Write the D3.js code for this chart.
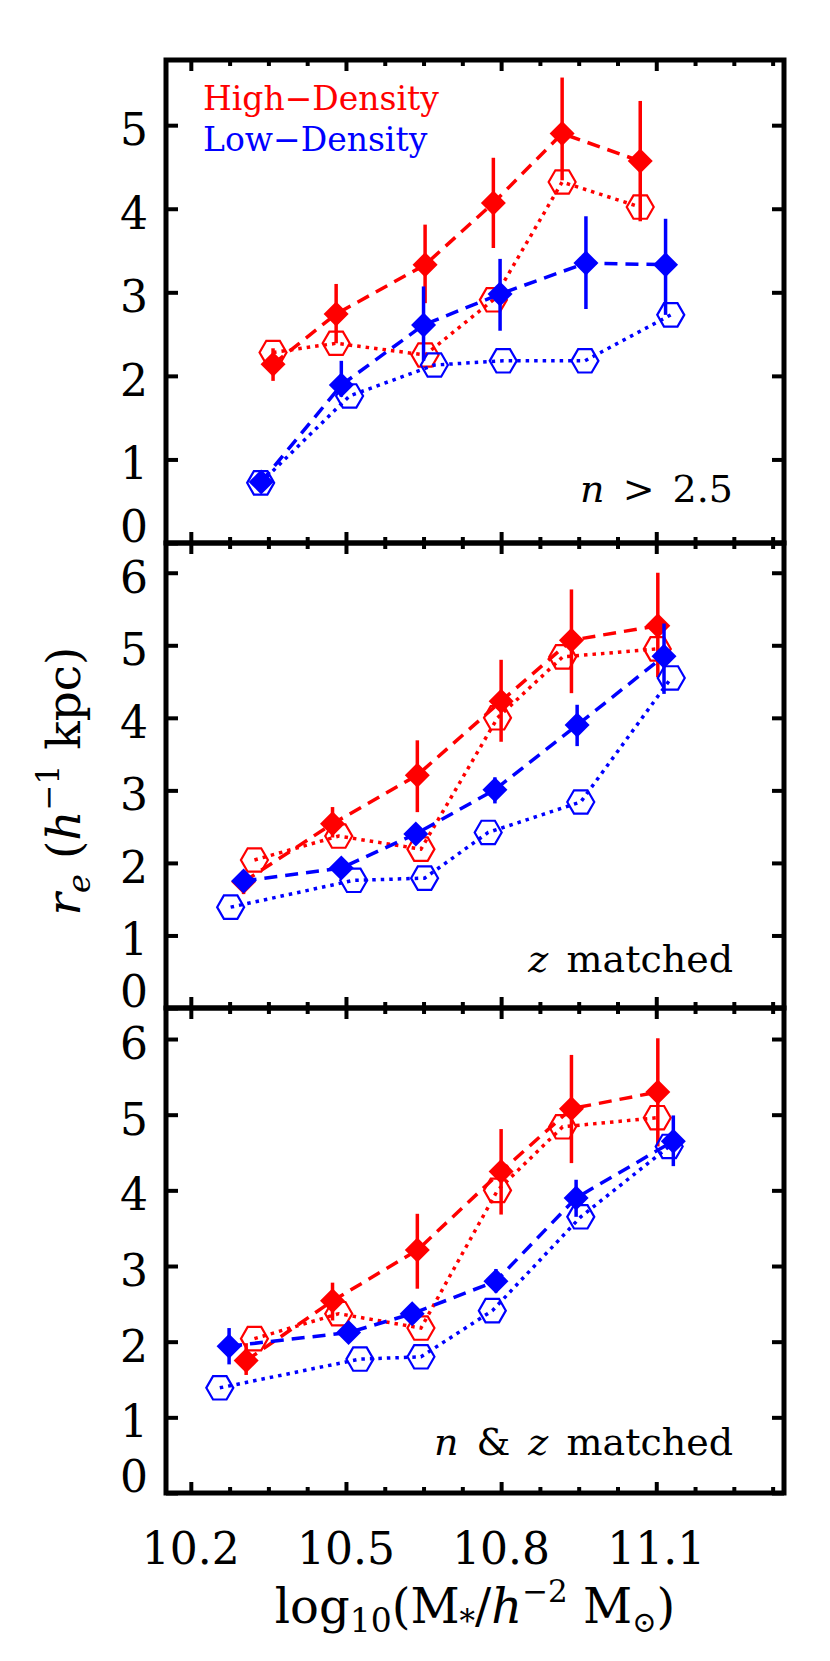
<!DOCTYPE html>
<html><head><meta charset="utf-8">
<script src="https://cdn.jsdelivr.net/npm/d3@7"></script>
<style>body{margin:0;background:#fff}svg{display:block}</style></head>
<body>
<svg id="c" width="830" height="1661"></svg>
<script>
// ---------- data ----------
const xMajorTicks = [10.2, 10.5, 10.8, 11.1];
const xMinorTicks = [10.275, 10.35, 10.425, 10.575, 10.65, 10.725, 10.875, 10.95, 11.025, 11.175, 11.25, 11.325];
const xTickLabels = ["10.2", "10.5", "10.8", "11.1"];
const xDomain = [10.152, 11.347];

const yDomainTop = [0, 5.78];
const yDomainOther = [0, 6.41];
const yTicksTop = [0, 1, 2, 3, 4, 5];
const yTicksOther = [0, 1, 2, 3, 4, 5, 6];

// Panel 1 : n > 2.5
const p1HighDiaX = [10.359, 10.481, 10.653, 10.785, 10.918, 11.069];
const p1HighDiaY = [2.14, 2.74, 3.33, 4.07, 4.90, 4.57];
const p1HighDiaLo = [1.94, 2.39, 2.87, 3.53, 4.34, 3.85];
const p1HighDiaHi = [2.33, 3.10, 3.81, 4.61, 5.57, 5.29];
const p1HighHexX = [10.359, 10.481, 10.653, 10.785, 10.918, 11.069];
const p1HighHexY = [2.28, 2.39, 2.25, 2.91, 4.32, 4.02];
const p1LowDiaX = [10.336, 10.491, 10.650, 10.798, 10.964, 11.118];
const p1LowDiaY = [0.73, 1.89, 2.61, 2.98, 3.35, 3.33];
const p1LowDiaLo = [0.68, 1.75, 2.18, 2.54, 2.80, 2.73];
const p1LowDiaHi = [0.78, 2.18, 3.07, 3.40, 3.91, 3.88];
const p1LowHexX = [10.335, 10.507, 10.671, 10.804, 10.962, 11.128];
const p1LowHexY = [0.72, 1.76, 2.13, 2.18, 2.18, 2.73];

// Panel 2 : z matched
const p2HighDiaX = [10.302, 10.474, 10.638, 10.800, 10.936, 11.103];
const p2HighDiaY = [1.74, 2.54, 3.21, 4.23, 5.07, 5.27];
const p2HighDiaLo = [1.57, 2.35, 2.70, 3.67, 4.34, 4.56];
const p2HighDiaHi = [1.90, 2.77, 3.69, 4.80, 5.77, 6.00];
const p2HighHexX = [10.323, 10.486, 10.645, 10.793, 10.919, 11.102];
const p2HighHexY = [2.04, 2.37, 2.19, 4.00, 4.84, 4.95];
const p2LowDiaX = [10.302, 10.491, 10.635, 10.788, 10.947, 11.115];
const p2LowDiaY = [1.75, 1.93, 2.40, 3.01, 3.90, 4.85];
const p2LowDiaLo = [1.65, 1.83, 2.30, 2.82, 3.61, 4.33];
const p2LowDiaHi = [1.85, 2.03, 2.50, 3.18, 4.18, 5.30];
const p2LowHexX = [10.277, 10.515, 10.652, 10.775, 10.954, 11.129];
const p2LowHexY = [1.39, 1.76, 1.79, 2.42, 2.84, 4.55];

// Panel 3 : n & z matched
const p3HighDiaX = [10.307, 10.474, 10.638, 10.800, 10.936, 11.103];
const p3HighDiaY = [1.75, 2.54, 3.21, 4.25, 5.08, 5.30];
const p3HighDiaLo = [1.56, 2.28, 2.70, 3.68, 4.36, 4.58];
const p3HighDiaHi = [1.98, 2.78, 3.69, 4.81, 5.79, 6.01];
const p3HighHexX = [10.323, 10.486, 10.645, 10.793, 10.919, 11.102];
const p3HighHexY = [2.04, 2.37, 2.18, 4.00, 4.84, 4.96];
const p3LowDiaX = [10.274, 10.505, 10.628, 10.790, 10.945, 11.133];
const p3LowDiaY = [1.94, 2.12, 2.37, 2.80, 3.90, 4.65];
const p3LowDiaLo = [1.70, 2.02, 2.27, 2.65, 3.65, 4.32];
const p3LowDiaHi = [2.18, 2.22, 2.47, 2.96, 4.14, 4.99];
const p3LowHexX = [10.256, 10.527, 10.645, 10.783, 10.954, 11.125];
const p3LowHexY = [1.39, 1.77, 1.80, 2.41, 3.65, 4.58];

const legendLabels = ["High\u2212Density", "Low\u2212Density"];
const seriesColors = ["#ff0000", "#0000ff"];

// ---------- layout ----------
const FONT = "DejaVu Serif";
const left = 166, right = 784;
const panelTops = [60, 543, 1008];
const panelBottoms = [543, 1008, 1493];

const panels = [
  {yDomain: yDomainTop, yTicks: yTicksTop,
   high: {dx: p1HighDiaX, dy: p1HighDiaY, lo: p1HighDiaLo, hi: p1HighDiaHi, hx: p1HighHexX, hy: p1HighHexY},
   low: {dx: p1LowDiaX, dy: p1LowDiaY, lo: p1LowDiaLo, hi: p1LowDiaHi, hx: p1LowHexX, hy: p1LowHexY},
   label: [["n", true], [" > 2.5", false]], labelOff: 41},
  {yDomain: yDomainOther, yTicks: yTicksOther,
   high: {dx: p2HighDiaX, dy: p2HighDiaY, lo: p2HighDiaLo, hi: p2HighDiaHi, hx: p2HighHexX, hy: p2HighHexY},
   low: {dx: p2LowDiaX, dy: p2LowDiaY, lo: p2LowDiaLo, hi: p2LowDiaHi, hx: p2LowHexX, hy: p2LowHexY},
   label: [["z", true], [" matched", false]], labelOff: 36},
  {yDomain: yDomainOther, yTicks: yTicksOther,
   high: {dx: p3HighDiaX, dy: p3HighDiaY, lo: p3HighDiaLo, hi: p3HighDiaHi, hx: p3HighHexX, hy: p3HighHexY},
   low: {dx: p3LowDiaX, dy: p3LowDiaY, lo: p3LowDiaLo, hi: p3LowDiaHi, hx: p3LowHexX, hy: p3LowHexY},
   label: [["n", true], [" & ", false], ["z", true], [" matched", false]], labelOff: 38}
];

const svg = d3.select("#c");
const x = d3.scaleLinear().domain(xDomain).range([left, right]);

const hexPath = r => {
  const pts = d3.range(6).map(i => [r * Math.cos(i * Math.PI / 3), r * Math.sin(i * Math.PI / 3)]);
  return "M" + pts.map(p => p.join(",")).join("L") + "Z";
};
const diaPath = r => `M0,${-r}L${r},0L0,${r}L${-r},0Z`;

panels.forEach((p, pi) => {
  const top = panelTops[pi], bot = panelBottoms[pi];
  const y = d3.scaleLinear().domain(p.yDomain).range([bot, top]);
  const g = svg.append("g");

  const styleAxis = sel => { sel.select(".domain").remove(); sel.selectAll("line").attr("stroke", "#000").attr("stroke-width", 4); sel.selectAll("text").remove(); };
  g.append("g").attr("transform", `translate(0,${bot})`).call(d3.axisBottom(x).tickValues(xMajorTicks).tickSizeInner(-11).tickSizeOuter(0)).call(styleAxis);
  g.append("g").attr("transform", `translate(0,${bot})`).call(d3.axisBottom(x).tickValues(xMinorTicks).tickSizeInner(-6).tickSizeOuter(0)).call(styleAxis);
  g.append("g").attr("transform", `translate(0,${top})`).call(d3.axisTop(x).tickValues(xMajorTicks).tickSizeInner(-11).tickSizeOuter(0)).call(styleAxis);
  g.append("g").attr("transform", `translate(0,${top})`).call(d3.axisTop(x).tickValues(xMinorTicks).tickSizeInner(-6).tickSizeOuter(0)).call(styleAxis);
  g.append("g").attr("transform", `translate(${left},0)`).call(d3.axisLeft(y).tickValues(p.yTicks).tickSizeInner(-12).tickSizeOuter(0)).call(styleAxis);
  g.append("g").attr("transform", `translate(${right},0)`).call(d3.axisRight(y).tickValues(p.yTicks).tickSizeInner(-12).tickSizeOuter(0)).call(styleAxis);

  g.selectAll(".yl").data(p.yTicks).enter().append("text")
    .attr("x", 148).attr("y", d => d === 0 ? y(d) - 1 : y(d) + 20)
    .attr("text-anchor", "end").attr("font-family", FONT).attr("font-size", 44)
    .text(d => d);

  [["high", 0], ["low", 1]].forEach(([key, ci]) => {
    const s = p[key], col = seriesColors[ci];
    const dia = s.dx.map((v, i) => ({x: v, y: s.dy[i], lo: s.lo[i], hi: s.hi[i]}));
    const hex = s.hx.map((v, i) => ({x: v, y: s.hy[i]}));
    const line = d3.line().x(d => x(d.x)).y(d => y(d.y));
    g.append("path").attr("d", line(hex)).attr("fill", "none").attr("stroke", col)
      .attr("stroke-width", 3.5).attr("stroke-dasharray", "3.5,5");
    g.append("path").attr("d", line(dia)).attr("fill", "none").attr("stroke", col)
      .attr("stroke-width", 3.5).attr("stroke-dasharray", "13,8");
    g.selectAll(null).data(dia).enter().append("line")
      .attr("x1", d => x(d.x)).attr("x2", d => x(d.x))
      .attr("y1", d => y(d.lo)).attr("y2", d => y(d.hi))
      .attr("stroke", col).attr("stroke-width", 3.5);
    g.selectAll(null).data(hex).enter().append("path")
      .attr("transform", d => `translate(${x(d.x)},${y(d.y)})`)
      .attr("d", hexPath(13.5)).attr("fill", "none").attr("stroke", col).attr("stroke-width", 2.2);
    g.selectAll(null).data(dia).enter().append("path")
      .attr("transform", d => `translate(${x(d.x)},${y(d.y)})`)
      .attr("d", diaPath(12.5)).attr("fill", col);
  });

  const t = g.append("text").attr("x", 733).attr("y", bot - p.labelOff)
    .attr("text-anchor", "end").attr("font-family", FONT).attr("font-size", 38)
    .attr("word-spacing", 6).style("white-space", "pre");
  p.label.forEach(([txt, it]) => t.append("tspan").attr("font-style", it ? "italic" : "normal").text(txt));

  g.append("rect").attr("x", left).attr("y", top).attr("width", right - left).attr("height", bot - top)
    .attr("fill", "none").attr("stroke", "#000").attr("stroke-width", 5);
});

svg.selectAll(".xl").data(xMajorTicks).enter().append("text")
  .attr("x", d => x(d)).attr("y", 1564).attr("text-anchor", "middle")
  .attr("font-family", FONT).attr("font-size", 44).text((d, i) => xTickLabels[i]);

legendLabels.forEach((l, i) => {
  svg.append("text").attr("x", 203).attr("y", 110 + i * 41).attr("fill", seriesColors[i])
    .attr("font-family", FONT).attr("font-size", 33).text(l);
});

const xt = svg.append("text").attr("x", 475).attr("y", 1623).attr("text-anchor", "middle")
  .attr("font-family", FONT).attr("font-size", 48).style("white-space", "pre");
xt.append("tspan").text("log");
xt.append("tspan").attr("font-size", 33).attr("dy", 9).text("10");
xt.append("tspan").attr("dy", -9).text("(M");
xt.append("tspan").attr("font-size", 31).attr("dy", 9).text("*");
xt.append("tspan").attr("dy", -9).text("/");
xt.append("tspan").attr("font-style", "italic").text("h");
xt.append("tspan").attr("font-size", 31).attr("dy", -21).text("\u22122");
xt.append("tspan").attr("dy", 21).text(" M");
xt.append("tspan").attr("font-size", 29).attr("dy", 9).text("\u2299");
xt.append("tspan").attr("dy", -9).text(")");

const yt = svg.append("text").attr("transform", "translate(80,781) rotate(-90)").attr("text-anchor", "middle")
  .attr("font-family", FONT).attr("font-size", 47).style("white-space", "pre");
yt.append("tspan").attr("font-style", "italic").text("r");
yt.append("tspan").attr("font-style", "italic").attr("font-size", 32).attr("dy", 10).text("e");
yt.append("tspan").attr("dy", -10).text(" (");
yt.append("tspan").attr("font-style", "italic").text("h");
yt.append("tspan").attr("font-size", 31).attr("dy", -21).text("\u22121");
yt.append("tspan").attr("dy", 21).text(" kpc)");
</script>
</body></html>
